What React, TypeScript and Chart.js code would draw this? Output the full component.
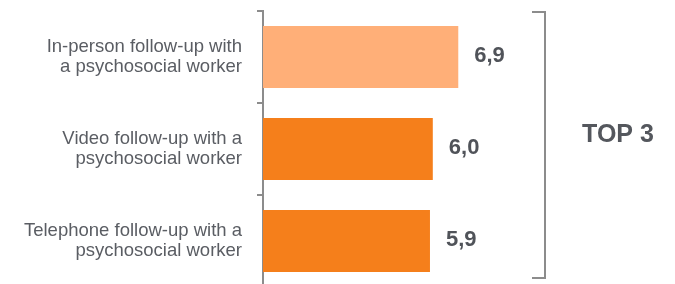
import React, { useEffect, useRef } from "react";
import { Chart, registerables } from "chart.js";

Chart.register(...registerables);

const categories: string[][] = [
  ["In-person follow-up with", "a psychosocial worker"],
  ["Video follow-up with a", "psychosocial worker"],
  ["Telephone follow-up with a", "psychosocial worker"],
];
const values: number[] = [6.9, 6.0, 5.9];
const barColors: string[] = ["#FFAF78", "#F57F1B", "#F57F1B"];
const bracketLabel = "TOP 3";

const FONT = "Arial, 'Liberation Sans', sans-serif";

export default function App() {
  const ref = useRef<HTMLCanvasElement | null>(null);

  useEffect(() => {
    if (!ref.current) return;

    const valueLabels = {
      id: "valueLabels",
      afterDatasetsDraw(chart: any) {
        const ctx = chart.ctx;
        const meta = chart.getDatasetMeta(0);
        ctx.save();
        ctx.font = `bold 22px ${FONT}`;
        ctx.fillStyle = "#505359";
        ctx.textAlign = "left";
        ctx.textBaseline = "middle";
        meta.data.forEach((bar: any, i: number) => {
          const txt = values[i].toFixed(1).replace(".", ",");
          ctx.fillText(txt, bar.x + 16, bar.y - 1);
        });
        ctx.restore();
      },
    };

    const bracket = {
      id: "bracket",
      afterDraw(chart: any) {
        const ctx = chart.ctx;
        const a = chart.chartArea;
        const x = a.right - 1;
        const top = a.top + 1;
        const bottom = a.bottom - 9;
        ctx.save();
        ctx.strokeStyle = "#8c8c8c";
        ctx.lineWidth = 2;
        ctx.beginPath();
        ctx.moveTo(x - 13, top);
        ctx.lineTo(x, top);
        ctx.lineTo(x, bottom);
        ctx.lineTo(x - 13, bottom);
        ctx.stroke();
        ctx.font = `bold 25px ${FONT}`;
        ctx.fillStyle = "#54575d";
        ctx.textAlign = "center";
        ctx.textBaseline = "middle";
        ctx.fillText(bracketLabel, x + 73, a.top + 124);
        ctx.restore();
      },
    };

    const chart = new Chart(ref.current, {
      type: "bar",
      data: {
        labels: categories,
        datasets: [
          {
            data: values,
            backgroundColor: barColors,
            borderWidth: 0,
            categoryPercentage: 1,
            barPercentage: 0.674,
          },
        ],
      },
      options: {
        indexAxis: "y",
        responsive: false,
        animation: false,
        layout: { padding: { top: 11, right: 129, bottom: 3, left: 0 } },
        plugins: {
          legend: { display: false },
          tooltip: { enabled: false },
        },
        scales: {
          x: { display: false, min: 0, max: 10 },
          y: {
            afterFit(scale: any) {
              scale.width = 263;
              scale.paddingTop = 0;
              scale.paddingBottom = 0;
            },
            grid: {
              display: true,
              drawOnChartArea: false,
              drawTicks: true,
              tickLength: 6,
              color: "#8c8c8c",
              lineWidth: 2,
              offset: true,
            },
            border: { display: true, color: "#8c8c8c", width: 2 },
            ticks: {
              padding: 15,
              color: "#5a5d63",
              font: { family: FONT, size: 18.5, lineHeight: 1.1 },
            },
          },
        },
      },
      plugins: [valueLabels, bracket],
    });
    return () => chart.destroy();
  }, []);

  return (
    <div style={{ position: "absolute", left: 0, top: 0, width: 675, height: 290 }}>
      <canvas ref={ref} width={675} height={290} />
    </div>
  );
}
